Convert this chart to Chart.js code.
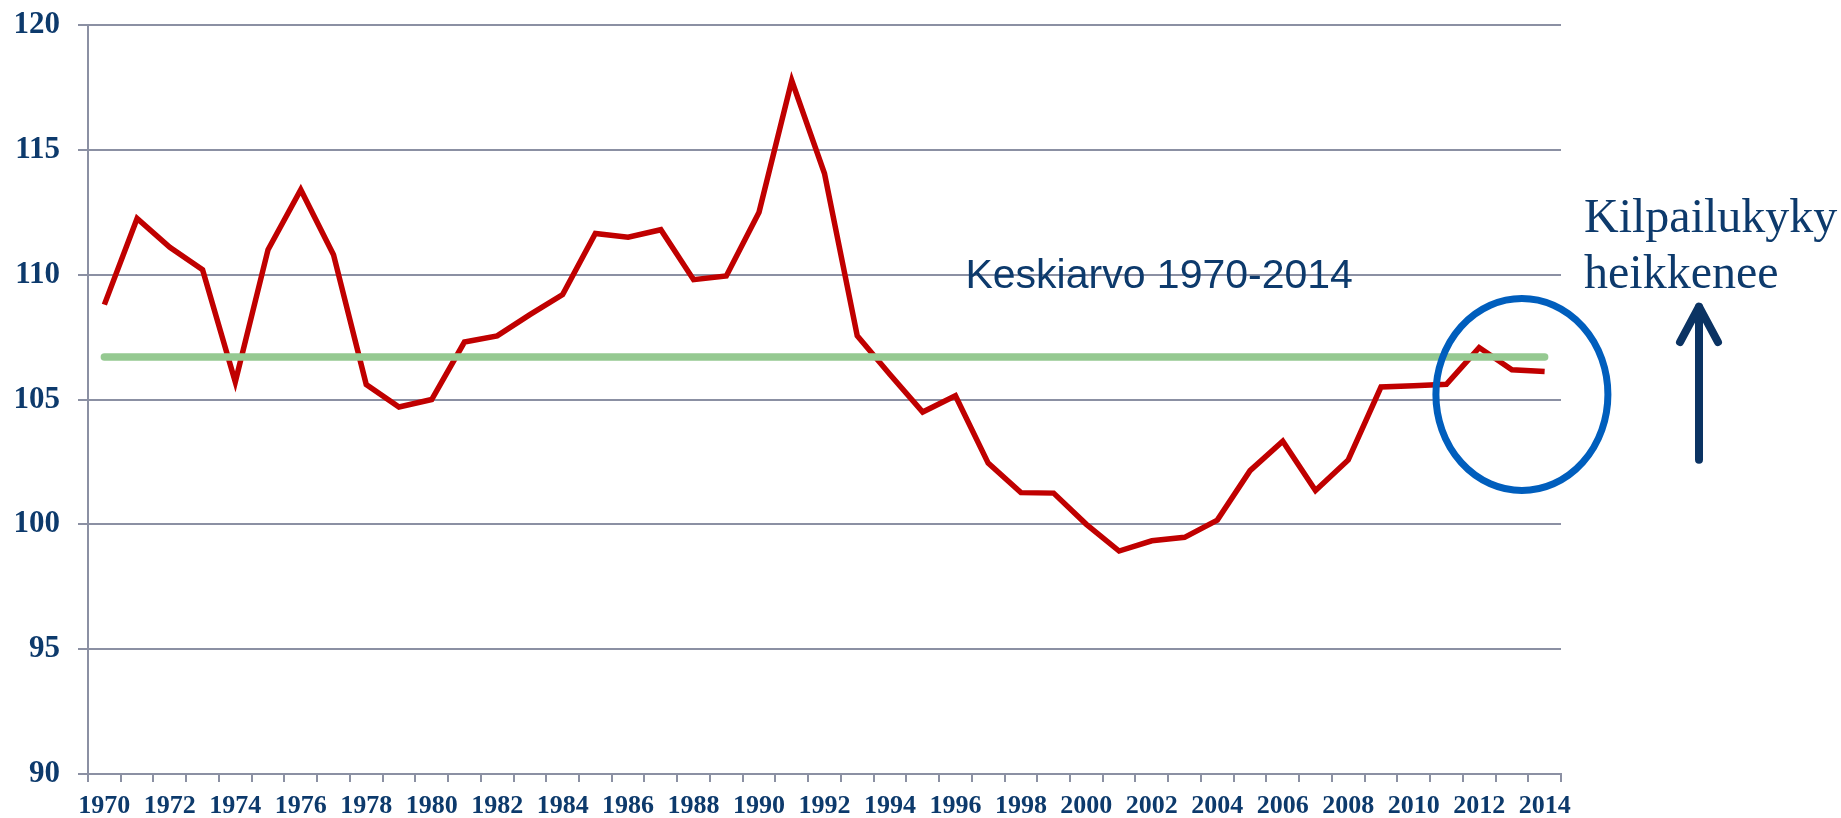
<!DOCTYPE html>
<html>
<head>
<meta charset="utf-8">
<script src="https://cdn.jsdelivr.net/npm/chart.js@4.4.1/dist/chart.umd.min.js"></script>
<style>
  html, body { margin: 0; padding: 0; background: #fff; }
  #wrap { width: 1841px; height: 818px; position: relative; }
</style>
</head>
<body>
<div id="wrap"><canvas id="chart"></canvas></div>
<script>
const years = [
  '1970', '1971', '1972', '1973', '1974', '1975', '1976', '1977', '1978', '1979',
  '1980', '1981', '1982', '1983', '1984', '1985', '1986', '1987', '1988', '1989',
  '1990', '1991', '1992', '1993', '1994', '1995', '1996', '1997', '1998', '1999',
  '2000', '2001', '2002', '2003', '2004', '2005', '2006', '2007', '2008', '2009',
  '2010', '2011', '2012', '2013', '2014'
];

// cost-competitiveness index
const indexValues = [
  108.8, 112.25, 111.1, 110.2, 105.7, 111.0, 113.4, 110.8, 105.6, 104.7,
  105.0, 107.3, 107.55, 108.4, 109.2, 111.65, 111.5, 111.8, 109.8, 109.95,
  112.5, 117.77, 114.05, 107.55, 106.0, 104.5, 105.15, 102.45, 101.27, 101.25,
  100.0, 98.93, 99.34, 99.48, 100.17, 102.15, 103.33, 101.35, 102.58, 105.5,
  105.55, 105.61, 107.08, 106.19, 106.12
];

// average 1970-2014, drawn from first to last year
const averageLevel = 106.7;
const averageSpan = ['1970', '2014'];

const yMin = 90;
const yMax = 120;
const yStep = 5;

const averageLabel = 'Keskiarvo 1970-2014';
const sideLabel = ['Kilpailukyky', 'heikkenee'];

const NAVY = '#0D3A6C';
const GRID = '#8B90A3';

const annotations = {
  id: 'annotations',
  afterDraw(chart) {
    const { ctx, chartArea } = chart;
    const x = chart.scales.x;
    const y = chart.scales.y;
    ctx.save();

    // label for the average line
    ctx.fillStyle = NAVY;
    ctx.textAlign = 'left';
    ctx.textBaseline = 'alphabetic';
    ctx.font = '41px "Liberation Sans", Arial, sans-serif';
    ctx.fillText(averageLabel, x.getPixelForValue(26) + 10, y.getPixelForValue(109.45));

    // circle around the last years
    ctx.strokeStyle = '#005EBD';
    ctx.lineWidth = 7;
    ctx.beginPath();
    ctx.ellipse(x.getPixelForValue(43) + 10, y.getPixelForValue(105.2), 86, 96, 0, 0, Math.PI * 2);
    ctx.stroke();

    // text on the right
    const tx = chartArea.right + 23;
    ctx.fillStyle = NAVY;
    ctx.font = '48px "Liberation Serif", "Times New Roman", serif';
    ctx.fillText(sideLabel[0], tx, y.getPixelForValue(111.72));
    ctx.fillText(sideLabel[1], tx, y.getPixelForValue(109.46));

    // upward arrow
    const ax = chartArea.right + 138;
    ctx.strokeStyle = '#0B3363';
    ctx.lineWidth = 8;
    ctx.lineCap = 'round';
    ctx.lineJoin = 'round';
    ctx.beginPath();
    ctx.moveTo(ax, y.getPixelForValue(102.59));
    ctx.lineTo(ax, y.getPixelForValue(108.7));
    ctx.stroke();
    ctx.beginPath();
    ctx.moveTo(ax - 19, y.getPixelForValue(107.3));
    ctx.lineTo(ax, y.getPixelForValue(108.72));
    ctx.lineTo(ax + 19, y.getPixelForValue(107.3));
    ctx.stroke();

    ctx.restore();
  }
};

new Chart(document.getElementById('chart'), {
  type: 'line',
  data: {
    labels: years,
    datasets: [
      {
        label: 'Keskiarvo',
        data: averageSpan.map(yr => ({ x: yr, y: averageLevel })),
        borderColor: '#95C991',
        borderWidth: 7.5,
        borderCapStyle: 'round',
        pointRadius: 0,
        fill: false,
        tension: 0
      },
      {
        label: 'Indeksi',
        data: indexValues,
        borderColor: '#C00000',
        borderWidth: 5.5,
        borderJoinStyle: 'miter',
        pointRadius: 0,
        fill: false,
        tension: 0
      }
    ]
  },
  options: {
    responsive: true,
    maintainAspectRatio: false,
    animation: false,
    layout: {
      padding: { top: 25, right: 280, bottom: 0, left: 0 }
    },
    scales: {
      x: {
        offset: true,
        grid: {
          offset: true,
          drawOnChartArea: false,
          drawTicks: true,
          tickLength: 8,
          color: GRID,
          lineWidth: 2
        },
        border: { display: true, color: GRID, width: 2 },
        ticks: {
          autoSkip: false,
          maxRotation: 0,
          minRotation: 0,
          padding: 9,
          color: NAVY,
          font: { family: '"Liberation Serif", "Times New Roman", serif', size: 26, weight: 'bold' },
          callback: function (value, i) {
            return i % 2 === 0 ? this.getLabelForValue(value) : '';
          }
        },
        afterFit: (axis) => {
          axis.height = 44;
          axis.paddingLeft = 0;
          axis.paddingRight = 0;
        }
      },
      y: {
        min: yMin,
        max: yMax,
        grid: {
          color: GRID,
          lineWidth: 2,
          drawTicks: true,
          tickLength: 10
        },
        border: { display: true, color: GRID, width: 2 },
        ticks: {
          stepSize: yStep,
          padding: 18,
          color: NAVY,
          font: { family: '"Liberation Serif", "Times New Roman", serif', size: 31, weight: 'bold' }
        },
        afterFit: (axis) => {
          axis.width = 88;
          axis.paddingTop = 0;
          axis.paddingBottom = 0;
        }
      }
    },
    plugins: {
      legend: { display: false },
      tooltip: { enabled: false },
      title: { display: false }
    }
  },
  plugins: [annotations]
});
</script>
</body>
</html>
